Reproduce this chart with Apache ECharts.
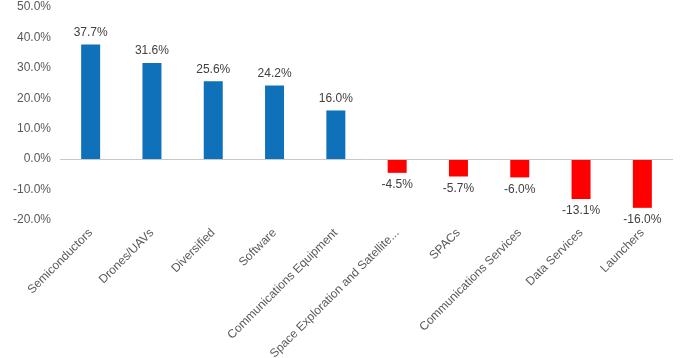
<!DOCTYPE html>
<html><head><meta charset="utf-8">
<script src="https://cdn.jsdelivr.net/npm/echarts@6/dist/echarts.min.js"></script>
<style>html,body{margin:0;padding:0;background:#fff}#c{width:687px;height:358px}</style>
</head><body><div id="c"></div>
<script>
const categories = ["Semiconductors","Drones/UAVs","Diversified","Software","Communications Equipment","Space Exploration and Satellite...","SPACs","Communications Services","Data Services","Launchers"];
const values = [37.7, 31.6, 25.6, 24.2, 16.0, -4.5, -5.7, -6.0, -13.1, -16.0];
const yTicks = {min: -20, max: 50, interval: 10};
const positiveColor = "#0F71BA";
const negativeColor = "#FF0000";

const chart = echarts.init(document.getElementById('c'), null, {renderer: 'canvas'});
chart.setOption({
  animation: false,
  grid: {left: 60, right: 14, top: 7, bottom: 138, containLabel: false, outerBoundsMode: 'none'},
  xAxis: {
    type: 'category', data: categories,
    axisLine: {show: false, onZero: false}, axisTick: {show: false},
    axisLabel: {rotate: 45, interval: 0, margin: 11, color: '#595959', fontSize: 12, fontFamily: 'Liberation Sans, Arial, sans-serif'}
  },
  yAxis: {
    type: 'value', min: yTicks.min, max: yTicks.max, interval: yTicks.interval,
    splitLine: {show: false}, axisLine: {show: false}, axisTick: {show: false},
    axisLabel: {margin: 9, color: '#595959', fontSize: 12, fontFamily: 'Liberation Sans, Arial, sans-serif', formatter: v => v.toFixed(1) + '%'}
  },
  series: [{
    type: 'bar', barWidth: '31%',
    data: values.map(v => ({value: v, itemStyle: {color: v >= 0 ? positiveColor : negativeColor},
      label: {position: v >= 0 ? 'top' : 'bottom'}})),
    label: {show: true, distance: 6, color: '#404040', fontSize: 12, fontFamily: 'Liberation Sans, Arial, sans-serif', formatter: p => p.value.toFixed(1) + '%'},
    markLine: {silent: true, symbol: 'none', label: {show: false},
      lineStyle: {color: '#C8C8C8', type: 'solid', width: 1}, data: [{yAxis: 0}]}
  }]
});
</script></body></html>
